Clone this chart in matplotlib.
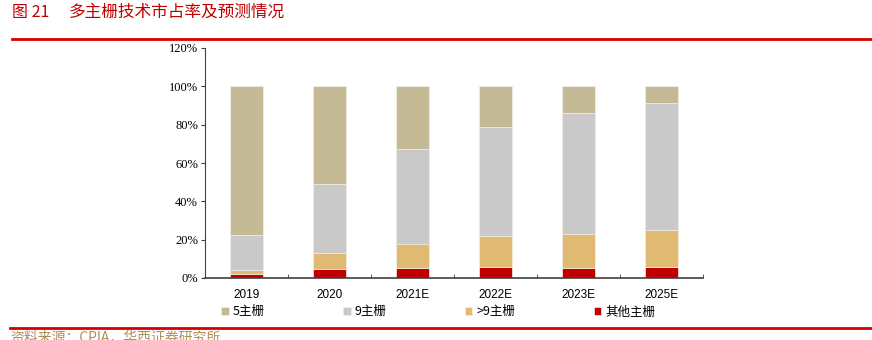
import matplotlib.pyplot as plt
import matplotlib.ticker as mtick
import numpy as np

plt.rcParams['font.family'] = ['Noto Sans CJK SC', 'DejaVu Sans']

years = ['2019', '2020', '2021E', '2022E', '2023E', '2025E']
other_bb = [2.0, 4.5, 5.0, 5.6, 5.0, 5.6]
over9_bb = [2.4, 8.3, 13.0, 16.4, 17.7, 19.7]
nine_bb = [18.0, 36.2, 49.4, 56.7, 63.5, 66.2]
five_bb = [77.6, 51.0, 32.6, 21.3, 13.8, 8.5]

series = [
    ('5主栅', five_bb, '#c4bb96'),
    ('9主栅', nine_bb, '#c9c9c9'),
    ('>9主栅', over9_bb, '#e0b972'),
    ('其他主栅', other_bb, '#c00000'),
]

fig = plt.figure(figsize=(8.72, 3.40), dpi=100)
ax = fig.add_axes([205 / 872, 1 - 278 / 340, 498 / 872, 230 / 340])

x = np.arange(len(years))
bottom = np.zeros(len(years))
bars = {}
# stack from bottom: other, >9, 9, 5
for name, vals, col in reversed(series):
    bars[name] = ax.bar(x, vals, 0.4, bottom=bottom, color=col,
                        edgecolor='#f2eee4', linewidth=0.5, label=name)
    bottom += np.array(vals)

ax.set_xlim(-0.5, len(years) - 0.5)
ax.set_ylim(0, 120)
ax.set_yticks(range(0, 121, 20))
ax.yaxis.set_major_formatter(mtick.FormatStrFormatter('%d%%'))
for t in ax.get_yticklabels():
    t.set_family('Liberation Serif')
    t.set_fontsize(9)
ax.set_xticks(x)
ax.set_xticklabels(years, family='Liberation Sans', fontsize=8.5)
ax.set_xticks(np.arange(-0.5, len(years)), minor=True)
ax.tick_params(axis='x', which='major', length=0, pad=8)
ax.tick_params(axis='x', which='minor', direction='in', length=3, color='#404040')
ax.tick_params(axis='y', direction='out', length=3, color='#404040', pad=2)
for s in ['top', 'right']:
    ax.spines[s].set_visible(False)
ax.spines['left'].set_color('#404040')
ax.spines['bottom'].set_color('#404040')
ax.spines['bottom'].set_linewidth(1.2)

leg = fig.legend([bars[n] for n, _, _ in series], [n for n, _, _ in series],
                 loc='center', bbox_to_anchor=(438 / 872, 1 - 312 / 340), ncol=4,
                 frameon=False, fontsize=9, handlelength=0.6, handleheight=0.6,
                 handletextpad=0.3, columnspacing=6.3)

fig.text(12 / 872, 1 - 12 / 340, '图 21', color='#c00000',
         fontsize=11.5, va='center', ha='left')
fig.text(69 / 872, 1 - 12 / 340, '多主栅技术市占率及预测情况', color='#c00000',
         fontsize=12, va='center', ha='left')
fig.add_artist(plt.Line2D([12 / 872, 871 / 872], [1 - 38.5 / 340] * 2, color='#d40000', lw=2))
fig.add_artist(plt.Line2D([10 / 872, 872 / 872], [1 - 328 / 340] * 2, color='#d40000', lw=2))
fig.text(10 / 872, 1 - 337 / 340, '资料来源：CPIA，华西证券研究所', color='#b08d5b',
         fontsize=10, va='center', ha='left')

fig.savefig('out.png', dpi=100)
